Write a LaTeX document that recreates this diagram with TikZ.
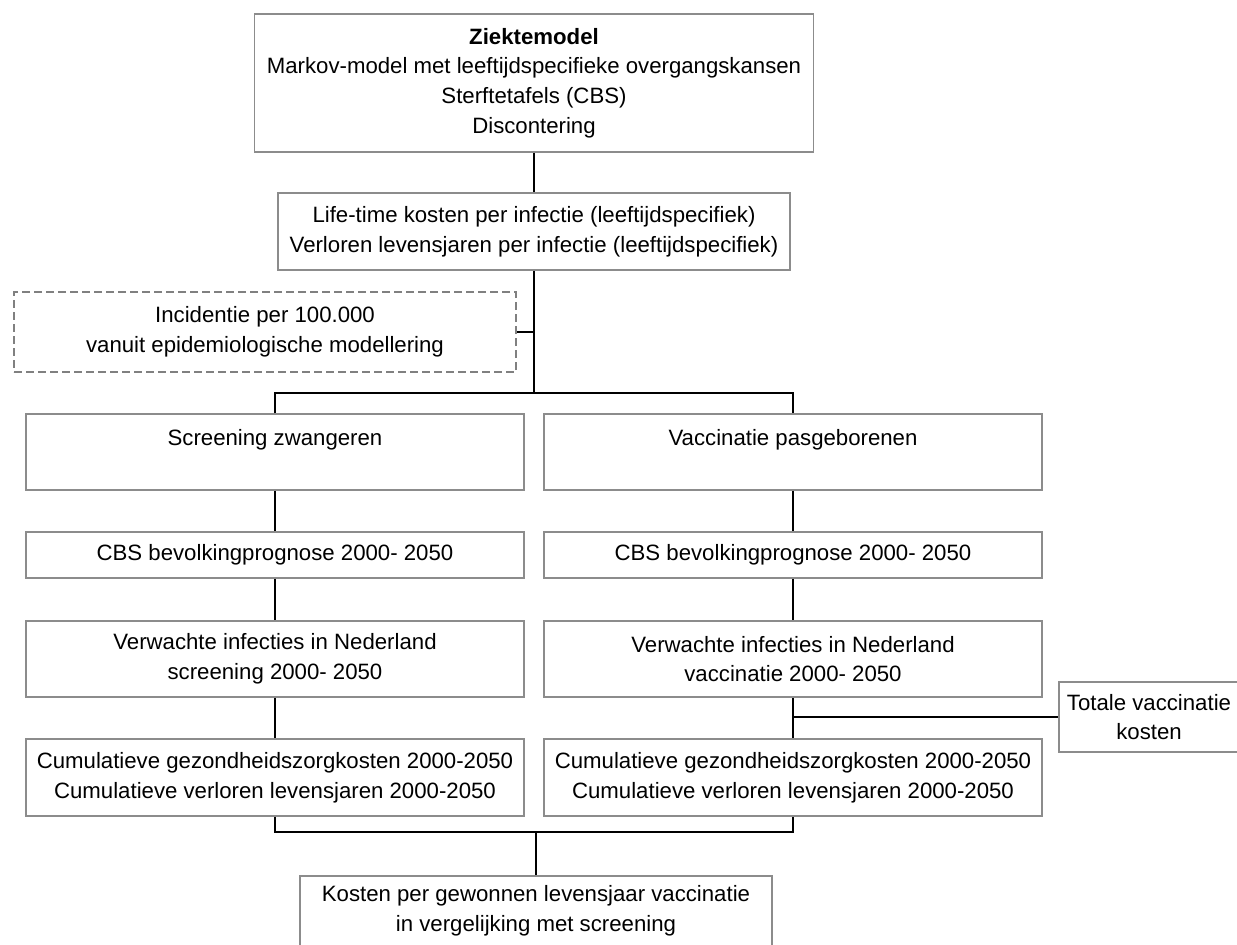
\documentclass[tikz,border=0pt]{standalone}
\usepackage{fontspec}
\setmainfont{Liberation Sans}
\definecolor{boxgray}{HTML}{8C8C8C}
\begin{document}
\begin{tikzpicture}[x=0.5pt,y=-0.5pt,
  box/.style={draw=boxgray, line width=0.75pt, fill=white, align=center, inner sep=1pt,
    font=\fontsize{11.1}{14.8}\selectfont},
  dashbox/.style={box, draw=gray, line width=1.3pt, dash pattern=on 4pt off 2pt},
  link/.style={draw=black, line width=0.75pt}]
\useasboundingbox (0,0) rectangle (1237,944);

\node[box, minimum width=279.5pt, minimum height=69pt] (ziekte) at (534,83)
  {\textbf{Ziektemodel}\\Markov-model met leeftijdspecifieke overgangskansen\\Sterftetafels (CBS)\\Discontering};
\node[box, minimum width=256pt, minimum height=38.5pt] (life) at (534,231.5)
  {Life-time kosten per infectie (leeftijdspecifiek)\\Verloren levensjaren per infectie (leeftijdspecifiek)};
\node[dashbox, minimum width=251pt, minimum height=40pt] (incid) at (265,332)
  {Incidentie per 100.000\\vanuit epidemiologische modellering};

\node[box, minimum width=249pt, minimum height=38pt] (scr) at (275,452) {Screening zwangeren\\\mbox{}};
\node[box, minimum width=249pt, minimum height=38pt] (vac) at (793,452) {Vaccinatie pasgeborenen\\\mbox{}};

\node[box, minimum width=249pt, minimum height=23pt] (cbsL) at (275,555) {CBS bevolkingprognose 2000- 2050};
\node[box, minimum width=249pt, minimum height=23pt] (cbsR) at (793,555) {CBS bevolkingprognose 2000- 2050};

\node[box, minimum width=249pt, minimum height=38pt] (infL) at (275,659)
  {Verwachte infecties in Nederland\\screening 2000- 2050};
\node[box, minimum width=249pt, minimum height=38pt] (infR) at (793,659)
  {Verwachte infecties in Nederland\\vaccinatie 2000- 2050};

\node[box, minimum width=249pt, minimum height=38.5pt] (cumL) at (275,777.5)
  {Cumulatieve gezondheidszorgkosten 2000-2050\\Cumulatieve verloren levensjaren 2000-2050};
\node[box, minimum width=249pt, minimum height=38.5pt] (cumR) at (793,777.5)
  {Cumulatieve gezondheidszorgkosten 2000-2050\\Cumulatieve verloren levensjaren 2000-2050};

\node[box, minimum width=90pt, minimum height=35pt, inner sep=0pt] (totaal) at (1149,717)
  {Totale vaccinatie\\kosten};
\node[box, minimum width=236pt, minimum height=35pt] (kosten) at (536,911)
  {Kosten per gewonnen levensjaar vaccinatie\\in vergelijking met screening};

\coordinate (split) at (534,393);
\coordinate (merge) at (536,832);

\draw[link] (ziekte.south) -- (life.north);
\draw[link] (life.south) -- (split);
\draw[link] (incid.east) -- (incid.east -| split);
\draw[link] (scr.north) |- (split) -| (vac.north);
\draw[link] (scr.south) -- (cbsL.north);
\draw[link] (vac.south) -- (cbsR.north);
\draw[link] (cbsL.south) -- (infL.north);
\draw[link] (cbsR.south) -- (infR.north);
\draw[link] (infL.south) -- (cumL.north);
\draw[link] (infR.south) -- (cumR.north);
\draw[link] (infR.south |- totaal.west) -- (totaal.west);
\draw[link] (cumL.south) |- (merge) -| (cumR.south);
\draw[link] (merge) -- (kosten.north);
\end{tikzpicture}
\end{document}
